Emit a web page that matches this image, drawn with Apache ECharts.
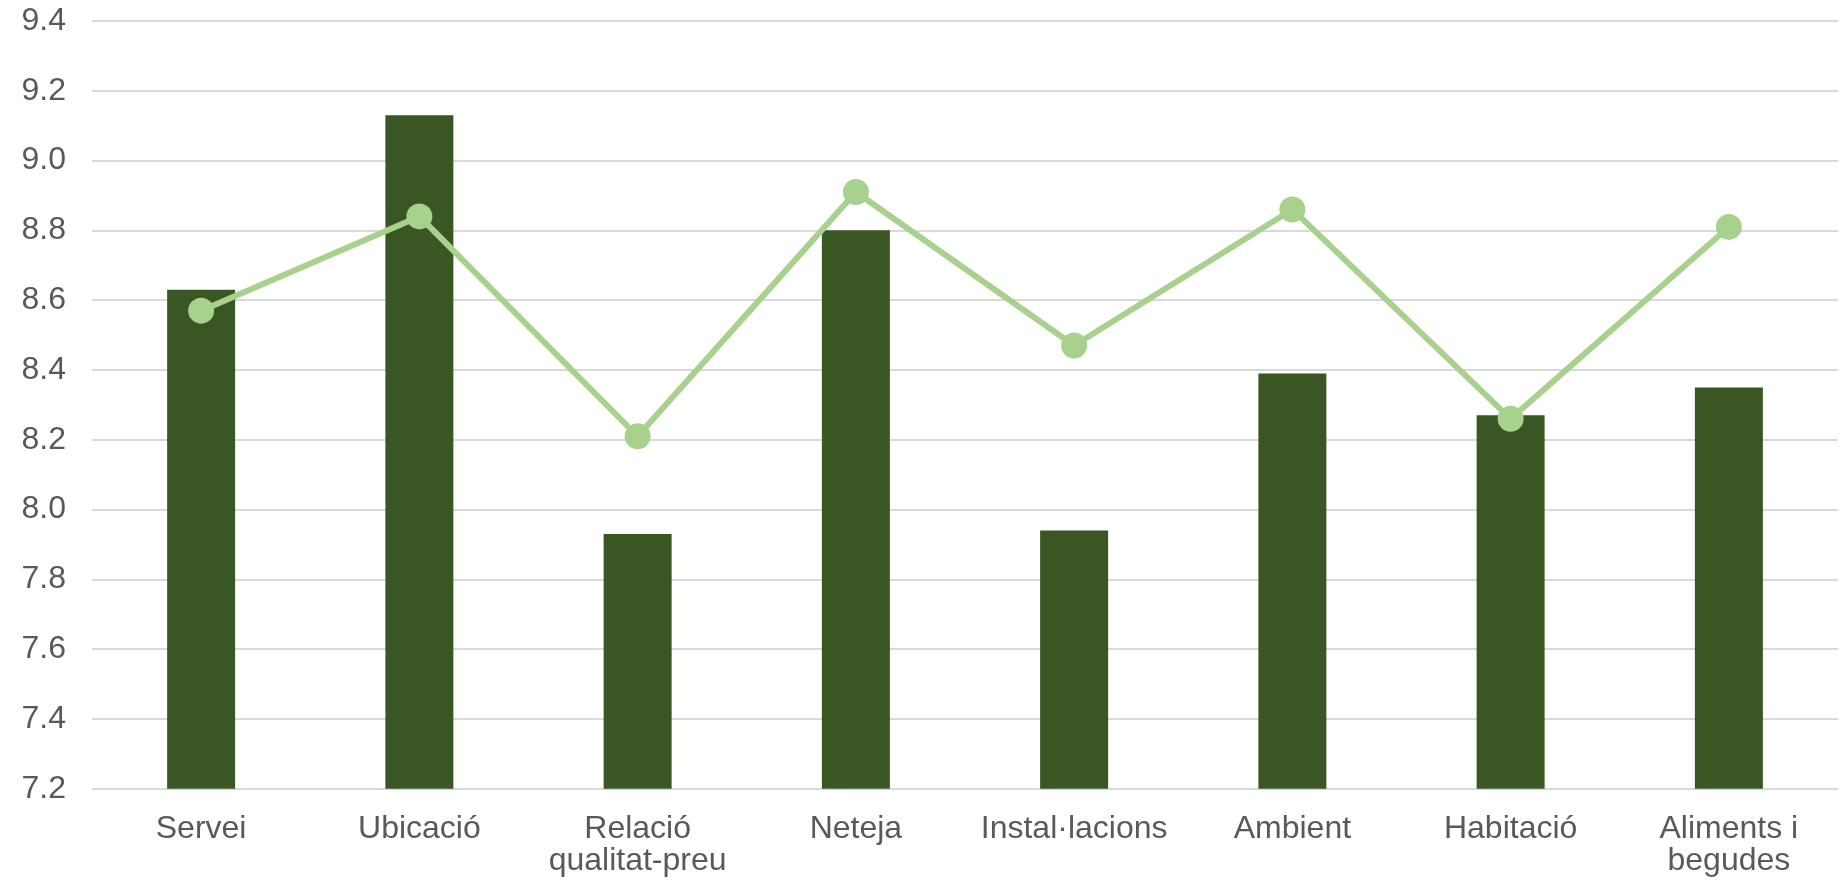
<!DOCTYPE html>
<html>
<head>
<meta charset="utf-8">
<script src="https://cdn.jsdelivr.net/npm/echarts@6/dist/echarts.min.js"></script>
<style>
html,body{margin:0;padding:0;background:#fff;}
#chart{width:1845px;height:881px;}
</style>
</head>
<body>
<div id="chart"></div>
<script>
const categories = ['Servei', 'Ubicació', 'Relació\nqualitat-preu', 'Neteja', 'Instal·lacions', 'Ambient', 'Habitació', 'Aliments i\nbegudes'];
const barValues = [8.63, 9.13, 7.93, 8.80, 7.94, 8.39, 8.27, 8.35];
const lineValues = [8.57, 8.84, 8.21, 8.91, 8.47, 8.86, 8.26, 8.81];
const yMin = 7.2, yMax = 9.4, yStep = 0.2;

const chart = echarts.init(document.getElementById('chart'), null, {renderer: 'canvas'});
chart.setOption({
  animation: false,
  backgroundColor: '#ffffff',
  grid: {left: 92, right: 7, top: 21, bottom: 92.3, containLabel: false},
  xAxis: {
    type: 'category',
    data: categories,
    axisLine: {show: false},
    axisTick: {show: false},
    axisLabel: {
      interval: 0,
      margin: 24,
      color: '#595959',
      fontFamily: 'Liberation Sans, Arial, sans-serif',
      fontSize: 32,
      lineHeight: 32
    }
  },
  yAxis: {
    type: 'value',
    min: yMin,
    max: yMax,
    interval: yStep,
    axisLine: {show: false},
    axisTick: {show: false},
    splitLine: {lineStyle: {color: '#d9d9d9', width: 2}},
    axisLabel: {
      margin: 26,
      color: '#595959',
      fontFamily: 'Liberation Sans, Arial, sans-serif',
      fontSize: 32,
      formatter: v => v.toFixed(1)
    }
  },
  series: [
    {
      type: 'bar',
      data: barValues,
      barWidth: 68,
      itemStyle: {color: '#3a5723'},
      z: 2
    },
    {
      type: 'line',
      data: lineValues,
      symbol: 'circle',
      symbolSize: 26,
      lineStyle: {color: '#a9d18e', width: 6},
      itemStyle: {color: '#a9d18e'},
      z: 3
    }
  ]
});
</script>
</body>
</html>
